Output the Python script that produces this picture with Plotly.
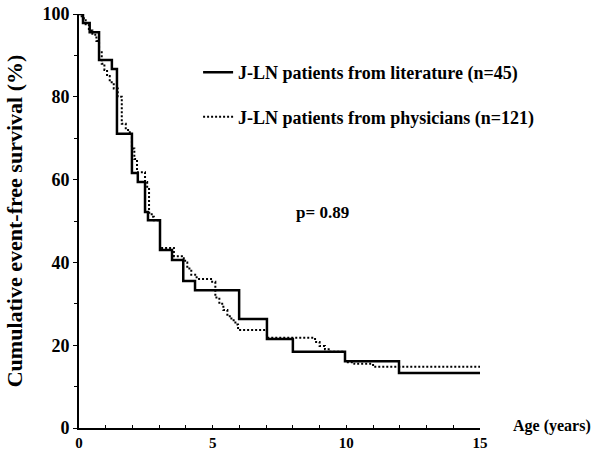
import plotly.graph_objects as go

# Kaplan-Meier estimates (time in years, survival in %)
lit_time = [0, 0.15, 0.4, 0.75, 1.23, 1.42, 1.98, 2.2, 2.47, 2.58, 3.03, 3.48,
            3.9, 4.34, 5.99, 7.03, 8.0, 9.95, 11.97, 15.1]
lit_surv = [100, 97.8, 95.6, 88.9, 86.7, 71.1, 61.6, 59.4, 52.2, 50.2, 43.0, 40.6,
            35.5, 33.3, 26.3, 21.5, 18.4, 16.1, 13.3, 13.3]

phys_time = [0, 0.1, 0.25, 0.37, 0.5, 0.65, 0.75, 0.85, 0.95, 1.05, 1.15, 1.3, 1.45,
             1.6, 1.75, 1.9, 1.98, 2.07, 2.17, 2.47, 2.55, 2.62, 2.72, 2.8, 3.03,
             3.55, 3.85, 3.97, 4.05, 4.2, 4.4, 4.98, 5.1, 5.25, 5.4, 5.55, 5.7,
             5.85, 5.95, 7.03, 8.83, 9.0, 9.2, 9.4, 9.95, 10.3, 11.0, 15.1]
phys_surv = [100, 99, 97.5, 96, 95, 93.5, 91, 88, 86.5, 85, 83.5, 82, 80,
             73.5, 72, 71, 67.5, 65, 61.8, 59.4, 58, 52, 51, 50.2, 43.5,
             41.5, 41, 40, 38.5, 37, 36, 35.3, 31.5, 30, 28.5, 27, 26,
             25, 23.7, 21.8, 20.8, 19.8, 19, 18.4, 15.9, 15.5, 14.8, 14.8]

legend_names = ["J-LN patients from literature (n=45)",
                "J-LN patients from physicians (n=121)"]
p_value_text = "p= 0.89"

x_ticks = [0, 5, 10, 15]
y_ticks = [0, 20, 40, 60, 80, 100]

FONT = "Liberation Serif, Times New Roman, serif"

fig = go.Figure()
fig.add_trace(go.Scatter(
    x=lit_time, y=lit_surv, mode="lines", line_shape="hv",
    line=dict(color="black", width=2.5),
    name="<b>" + legend_names[0] + "</b>", legendgroup="a"))
fig.add_trace(go.Scatter(
    x=phys_time, y=phys_surv, mode="lines", line_shape="hv",
    line=dict(color="black", width=2, dash="2px,2px"),
    name="<b>" + legend_names[1] + "</b>", legendgroup="b"))

fig.add_annotation(x=9.1, y=52, xref="x", yref="y", text="<b>" + p_value_text + "</b>",
                   showarrow=False, font=dict(family=FONT, size=17, color="black"))
fig.add_annotation(x=1.078, y=0.006, xref="paper", yref="paper", xanchor="left",
                   yanchor="middle", text="<b>Age (years)</b>", showarrow=False,
                   font=dict(family=FONT, size=16, color="black"))

fig.update_layout(
    width=596, height=452,
    margin=dict(l=79, r=116, t=14, b=24, autoexpand=False),
    paper_bgcolor="white", plot_bgcolor="white",
    font=dict(family=FONT, color="black"),
    showlegend=True,
    legend=dict(x=0.297, y=0.903, xanchor="left", yanchor="top",
                traceorder="grouped", tracegroupgap=18,
                bgcolor="rgba(0,0,0,0)",
                font=dict(family=FONT, size=18, color="black")),
    xaxis=dict(range=[0, 15], tickvals=x_ticks,
               ticktext=["<b>%d</b>" % v for v in x_ticks],
               automargin=False,
               showgrid=False, zeroline=False, showline=True, linecolor="black",
               linewidth=1.5, ticks="inside", ticklen=3, tickcolor="black",
               ticklabelstandoff=0,
               minor=dict(dtick=1, ticks="inside", ticklen=3, tickcolor="black"),
               tickfont=dict(family=FONT, size=15, color="black")),
    yaxis=dict(range=[0, 100], tickvals=y_ticks,
               ticktext=["<b>%d</b>" % v for v in y_ticks],
               automargin=False,
               showgrid=False, zeroline=False, showline=True, linecolor="black",
               linewidth=2, ticks="outside", ticklen=4, tickcolor="black",
               minor=dict(dtick=10, ticks="outside", ticklen=3, tickcolor="black"),
               tickfont=dict(family=FONT, size=18, color="black"),
               title=dict(text="<b>Cumulative event-free survival (%)</b>",
                          font=dict(family=FONT, size=22, color="black"),
                          standoff=14)),
)

fig.write_html("out.html")
